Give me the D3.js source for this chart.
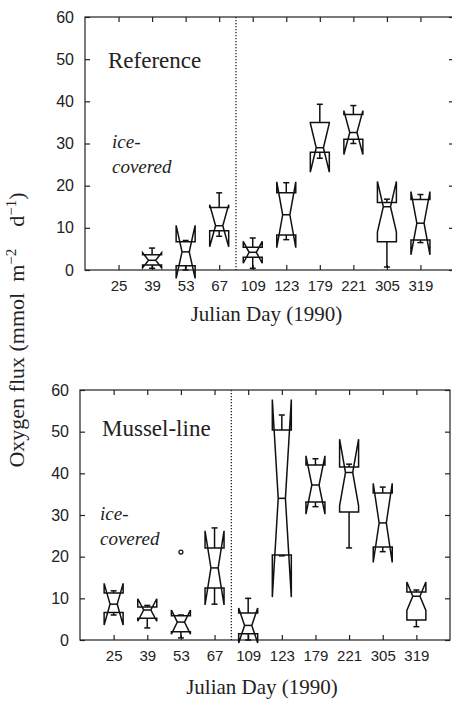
<!DOCTYPE html>
<html>
<head>
<meta charset="utf-8">
<script src="https://cdn.jsdelivr.net/npm/d3@7"></script>
<style>
  html, body { margin: 0; padding: 0; background: #fff; }
  svg { display: block; }
  .tick text { font-family: "Liberation Sans", Arial, sans-serif; font-size: 15px; fill: #222; }
  .serif { font-family: "Liberation Serif", "Times New Roman", serif; fill: #222; }
</style>
</head>
<body>
<svg id="chart" width="452" height="704"></svg>
<script>
// Sampling days (Julian day, 1990)
const days = ["25", "39", "53", "67", "109", "123", "179", "221", "305", "319"];
const yTicks = [0, 10, 20, 30, 40, 50, 60];

// Reference site: oxygen flux statistics per day (mmol m-2 d-1); null = no data
const refLow   = [null, 0.4, 0.0,  8.0, 0.4,  7.2, 26.5, 30.0,  0.7,  6.5];
const refQ1    = [null, 1.2, 1.0,  9.3, 3.0,  8.3, 27.9, 31.0,  6.7,  7.1];
const refMed   = [null, 2.3, 4.3, 10.5, 4.2, 13.1, 29.0, 32.6, 15.0, 11.1];
const refQ3    = [null, 3.6, 6.7, 14.8, 5.4, 18.3, 35.0, 36.9, 16.0, 16.7];
const refHigh  = [null, 5.2, 7.0, 18.3, 7.6, 20.7, 39.3, 39.0, 16.8, 17.9];
const refNotch = [null, 1.8, 6.3,  5.0, 2.6,  7.8,  5.8,  5.2,  6.0,  7.5];
const refOut   = [[], [], [], [], [], [], [], [], [], []];

// Mussel-line site
const musLow   = [ 6.0, 2.9, 0.5,  8.6, 0.0, 20.2, 32.0, 22.1, 21.2,  3.2];
const musQ1    = [ 6.6, 5.2, 2.0, 12.5, 1.5, 20.4, 33.1, 30.7, 22.3,  4.8];
const musMed   = [ 8.6, 7.2, 4.3, 17.3, 3.5, 34.0, 37.2, 40.2, 28.1, 10.5];
const musQ3    = [11.3, 7.9, 5.8, 22.1, 6.5, 50.4, 42.0, 41.5, 35.3, 11.5];
const musHigh  = [11.8, 8.3, 6.0, 26.9, 10.0, 54.0, 43.5, 42.2, 36.7, 12.0];
const musNotch = [ 5.0, 2.7, 2.9,  8.9, 4.2, 23.7,  7.0,  8.0,  9.5,  3.4];
const musOut   = [[], [], [21.1], [], [], [], [], [], [], []];

const svg = d3.select("#chart");
svg.append("rect").attr("width", 452).attr("height", 704).attr("fill", "#fff");

function makeRows(low, q1, med, q3, high, notch, out) {
  return days.map((d, i) => ({
    day: d, low: low[i], q1: q1[i], med: med[i], q3: q3[i],
    high: high[i], notch: notch[i], out: out[i]
  })).filter(r => r.med !== null);
}

function panel(opts) {
  const { left, right, top, bottom, title, titlePos, icePos, rows, xlabelY } = opts;
  const g = svg.append("g");

  const x = d3.scalePoint().domain(days).range([left, right]).padding(1);
  const y = d3.scaleLinear().domain([0, 60]).range([bottom, top]);

  // axes on all four sides, ticks pointing inward
  g.append("g").attr("transform", `translate(0,${bottom})`)
    .call(d3.axisBottom(x).tickSize(-5).tickSizeOuter(0).tickPadding(10))
    .call(a => a.select(".domain").remove());
  g.append("g").attr("transform", `translate(0,${top})`)
    .call(d3.axisTop(x).tickSize(-5).tickSizeOuter(0).tickFormat(""))
    .call(a => a.select(".domain").remove());
  g.append("g").attr("transform", `translate(${left},0)`)
    .call(d3.axisLeft(y).tickValues(yTicks).tickSize(-5).tickSizeOuter(0).tickPadding(11))
    .call(a => a.select(".domain").remove())
    .call(a => a.selectAll(".tick text").style("font-size", "16px"));
  g.append("g").attr("transform", `translate(${right},0)`)
    .call(d3.axisRight(y).tickValues(yTicks).tickSize(-5).tickSizeOuter(0).tickFormat(""))
    .call(a => a.select(".domain").remove());
  g.selectAll(".tick line").attr("stroke", "#222").attr("stroke-width", 1.2);

  g.append("rect")
    .attr("x", left).attr("y", top)
    .attr("width", right - left).attr("height", bottom - top)
    .attr("fill", "none").attr("stroke", "#222").attr("stroke-width", 1.2);

  // boundary between ice-covered and open-water periods
  const xd = (x("67") + x("109")) / 2;
  g.append("line")
    .attr("x1", xd).attr("x2", xd).attr("y1", top).attr("y2", bottom)
    .attr("stroke", "#222").attr("stroke-width", 1.3)
    .attr("stroke-dasharray", "1.3,1.7");

  // notched box plots
  const w = 9.5, wn = 3.6, cap = 3;
  const boxes = g.append("g")
    .attr("fill", "none").attr("stroke", "#111")
    .attr("stroke-width", 1.5).attr("stroke-linejoin", "miter");

  rows.forEach(r => {
    const cx = x(r.day);
    const n1 = r.med - r.notch, n2 = r.med + r.notch;
    const pts = [
      [cx - w, y(r.q1)], [cx - w, y(n1)], [cx - wn, y(r.med)], [cx - w, y(n2)],
      [cx - w, y(r.q3)], [cx + w, y(r.q3)], [cx + w, y(n2)], [cx + wn, y(r.med)],
      [cx + w, y(n1)], [cx + w, y(r.q1)]
    ];
    boxes.append("path").attr("d", d3.line()(pts) + "Z");
    boxes.append("line")
      .attr("x1", cx - wn).attr("x2", cx + wn)
      .attr("y1", y(r.med)).attr("y2", y(r.med));
    // whiskers with end caps
    [[r.q3, r.high], [r.q1, r.low]].forEach(([from, to]) => {
      boxes.append("line").attr("x1", cx).attr("x2", cx)
        .attr("y1", y(from)).attr("y2", y(to));
      boxes.append("line").attr("x1", cx - cap).attr("x2", cx + cap)
        .attr("y1", y(to)).attr("y2", y(to));
    });
    r.out.forEach(v => {
      boxes.append("circle").attr("cx", cx).attr("cy", y(v)).attr("r", 2)
        .attr("stroke-width", 1.2);
    });
  });

  // annotations
  g.append("text").attr("class", "serif")
    .attr("x", titlePos[0]).attr("y", titlePos[1])
    .style("font-size", "23px").text(title);
  const ice = g.append("text").attr("class", "serif")
    .style("font-size", "19px").style("font-style", "italic");
  ice.append("tspan").attr("x", icePos[0]).attr("y", icePos[1]).text("ice-");
  ice.append("tspan").attr("x", icePos[0]).attr("y", icePos[1] + 25).text("covered");

  g.append("text").attr("class", "serif")
    .attr("x", (left + right) / 2 - 3).attr("y", xlabelY)
    .attr("text-anchor", "middle")
    .style("font-size", "21px").text("Julian Day (1990)");
}

panel({
  left: 85, right: 454, top: 17, bottom: 270,
  title: "Reference", titlePos: [108, 68], icePos: [112, 148],
  rows: makeRows(refLow, refQ1, refMed, refQ3, refHigh, refNotch, refOut),
  xlabelY: 321
});

panel({
  left: 80, right: 450, top: 390, bottom: 640,
  title: "Mussel-line", titlePos: [102, 436], icePos: [100, 520],
  rows: makeRows(musLow, musQ1, musMed, musQ3, musHigh, musNotch, musOut),
  xlabelY: 694
});

// shared y-axis title
const yl = svg.append("text").attr("class", "serif")
  .attr("transform", "translate(24,330) rotate(-90)")
  .attr("text-anchor", "middle")
  .style("font-size", "22px");
yl.append("tspan").text("Oxygen flux (mmol\u2002m");
yl.append("tspan").attr("dy", -8).style("font-size", "15px").text("\u22122");
yl.append("tspan").attr("dy", 8).text("\u2002\u2002d");
yl.append("tspan").attr("dy", -8).style("font-size", "15px").text("\u22121");
yl.append("tspan").attr("dy", 8).text(")");
</script>
</body>
</html>
